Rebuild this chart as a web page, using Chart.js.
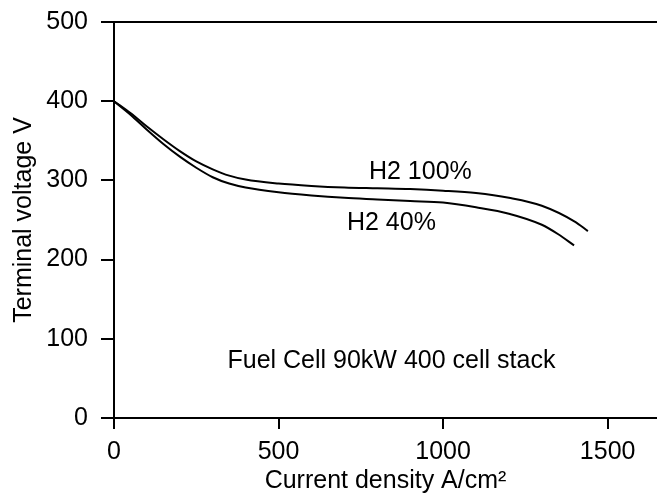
<!DOCTYPE html>
<html>
<head>
<meta charset="utf-8">
<script src="https://cdn.jsdelivr.net/npm/chart.js@4/dist/chart.umd.min.js"></script>
<style>
  html, body { margin: 0; padding: 0; background: #fff; }
  #wrap { width: 657px; height: 494px; }
</style>
</head>
<body>
<div id="wrap"><canvas id="c" width="657" height="494"></canvas></div>
<script>
// ---- data ----
const xH2Full = [0, 50, 100, 150, 200, 250, 300, 350, 400, 500, 600, 700, 800, 900, 1000, 1100, 1200, 1300, 1400, 1440];
const yH2Full = [400, 385, 368, 352, 337, 324, 314, 306, 301, 296, 293, 291, 290, 289, 287, 284, 278, 268, 248, 236];
const xH2Low  = [0, 50, 100, 150, 200, 250, 300, 350, 400, 500, 600, 700, 800, 900, 1000, 1100, 1200, 1300, 1350, 1398];
const yH2Low  = [400, 383, 364, 346, 330, 316, 304, 296, 291, 285, 281, 278, 276, 274, 272, 266, 258, 244, 232, 218];
const xTickValues = [0, 500, 1000, 1500];
const yTickValues = [0, 100, 200, 300, 400, 500];
const seriesNames = ['H2 100%', 'H2 40%'];
const noteText = 'Fuel Cell 90kW 400 cell stack';
const xTitle = 'Current density A/cm\u00B2';
const yTitle = 'Terminal voltage V';

// annotation anchors (data coordinates)
const labelX = [931, 843, 843];
const labelY = [311, 246, 72];

const FONT = "'Liberation Sans', Arial, Helvetica, sans-serif";
const FS = 25;

function pts(xs, ys) { return xs.map((x, i) => ({x: x, y: ys[i]})); }

const textPlugin = {
  id: 'texts',
  afterDatasetsDraw(chart) {
    const {ctx, scales} = chart;
    const texts = [seriesNames[0], seriesNames[1], noteText];
    ctx.save();
    ctx.fillStyle = '#000';
    ctx.font = FS + 'px ' + FONT;
    ctx.textAlign = 'center';
    ctx.textBaseline = 'middle';
    texts.forEach((t, i) => {
      ctx.fillText(t, scales.x.getPixelForValue(labelX[i]), scales.y.getPixelForValue(labelY[i]));
    });
    ctx.restore();
  }
};

new Chart(document.getElementById('c'), {
  type: 'scatter',
  data: {
    datasets: [
      { label: seriesNames[0], data: pts(xH2Full, yH2Full), showLine: true, cubicInterpolationMode: 'monotone',
        borderColor: '#000', borderWidth: 2, pointRadius: 0, fill: false },
      { label: seriesNames[1], data: pts(xH2Low, yH2Low), showLine: true, cubicInterpolationMode: 'monotone',
        borderColor: '#000', borderWidth: 2, pointRadius: 0, fill: false }
    ]
  },
  options: {
    responsive: false,
    animation: false,
    devicePixelRatio: 1,
    layout: { padding: { top: 22, right: 0, left: 0, bottom: 0 } },
    plugins: { legend: { display: false }, tooltip: { enabled: false } },
    scales: {
      x: {
        type: 'linear', min: 0, max: 1650,
        afterFit: s => { s.height = 76; },
        afterBuildTicks: s => { s.ticks = xTickValues.map(v => ({value: v})); },
        ticks: { color: '#000', font: { family: FONT, size: FS }, padding: 8, maxRotation: 0,
                 callback: v => String(v) },
        grid: {
          drawOnChartArea: false, drawTicks: true, tickLength: 11, tickWidth: 2, tickColor: '#000',
          lineWidth: 2, color: '#000'
        },
        border: { display: true, color: '#000', width: 2 },
        title: { display: true, text: xTitle, color: '#000', font: { family: FONT, size: FS, lineHeight: 1 }, padding: { top: 0, bottom: 0 } }
      },
      y: {
        type: 'linear', min: 0, max: 500,
        afterFit: s => { s.width = 114; s.paddingTop = 0; s.paddingBottom = 0; },
        afterBuildTicks: s => { s.ticks = yTickValues.map(v => ({value: v})); },
        ticks: { color: '#000', font: { family: FONT, size: FS }, padding: 13, callback: v => String(v) },
        grid: {
          drawTicks: true, tickLength: 13, tickWidth: 2, tickColor: '#000', lineWidth: 2,
          color: c => (c.tick && c.tick.value === 500) ? '#000' : 'rgba(0,0,0,0)'
        },
        border: { display: true, color: '#000', width: 2 },
        title: { display: true, text: yTitle, color: '#000', font: { family: FONT, size: FS, lineHeight: 1 }, padding: { top: 12, bottom: 0 } }
      }
    }
  },
  plugins: [textPlugin]
});
</script>
</body>
</html>
